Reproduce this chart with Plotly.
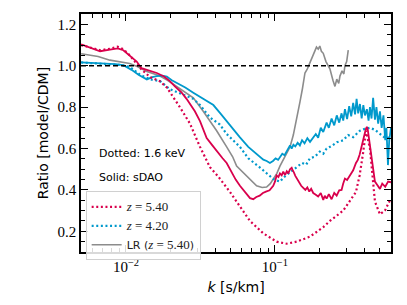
import plotly.graph_objects as go

# ---------------- data ----------------
# sDAO, z = 5.40 (red solid)
k_red_solid = [0.0050, 0.0058, 0.0067, 0.0078, 0.0088, 0.0096, 0.0106, 0.0118, 0.0127, 0.0145,
               0.0161, 0.0180, 0.0197, 0.0213, 0.0235, 0.0255, 0.0275, 0.0290, 0.0314, 0.0330,
               0.0348, 0.0380, 0.0416, 0.0445, 0.0474, 0.0512, 0.0545, 0.0582, 0.0610, 0.0640,
               0.0680, 0.0715, 0.0750, 0.0790, 0.0830, 0.0870, 0.0920, 0.0974, 0.1000, 0.1026,
               0.1055, 0.1080, 0.1110, 0.1137, 0.1170, 0.1200, 0.1230, 0.1262, 0.1295, 0.1320,
               0.1340, 0.1370, 0.1400, 0.1450, 0.1500, 0.1549, 0.1600, 0.1650, 0.1700, 0.1750,
               0.1807, 0.1870, 0.1950, 0.2030, 0.2110, 0.2160, 0.2222, 0.2300, 0.2400, 0.2500,
               0.2595, 0.2700, 0.2800, 0.2870, 0.2949, 0.3050, 0.3200, 0.3350, 0.3499, 0.3600,
               0.3700, 0.3800, 0.3902, 0.4000, 0.4080, 0.4140, 0.4200, 0.4300, 0.4400, 0.4477,
               0.4580, 0.4690, 0.4850, 0.5068, 0.5250, 0.5500, 0.5750, 0.6010]
v_red_solid = [1.104, 1.088, 1.070, 1.078, 1.084, 1.075, 1.050, 1.020, 0.988, 0.975,
               0.965, 0.948, 0.926, 0.900, 0.872, 0.840, 0.805, 0.780, 0.732, 0.690,
               0.650, 0.615, 0.577, 0.553, 0.530, 0.484, 0.450, 0.420, 0.402, 0.385,
               0.360, 0.355, 0.366, 0.372, 0.385, 0.392, 0.398, 0.420, 0.440, 0.470,
               0.462, 0.480, 0.470, 0.488, 0.472, 0.490, 0.480, 0.500, 0.507, 0.492,
               0.485, 0.468, 0.455, 0.440, 0.420, 0.410, 0.400, 0.412, 0.392, 0.405,
               0.385, 0.378, 0.368, 0.385, 0.352, 0.372, 0.358, 0.380, 0.355, 0.385,
               0.372, 0.398, 0.400, 0.430, 0.455, 0.448, 0.475, 0.495, 0.530, 0.545,
               0.570, 0.600, 0.640, 0.670, 0.695, 0.705, 0.690, 0.640, 0.590, 0.560,
               0.490, 0.440, 0.425, 0.405, 0.430, 0.415, 0.440, 0.437]

# 1.6 keV, z = 5.40 (red dotted)
k_red_dot = [0.0050, 0.0058, 0.0067, 0.0078, 0.0088, 0.0096, 0.0106, 0.0124, 0.0145, 0.0169,
             0.0188, 0.0230, 0.0269, 0.0314, 0.0366, 0.0416, 0.0499, 0.0582, 0.0680, 0.0835,
             0.1026, 0.1198, 0.1400, 0.1717, 0.2110, 0.2338, 0.2873, 0.3499, 0.3700, 0.3902,
             0.4082, 0.4342, 0.4690, 0.5068, 0.5471, 0.6010]
v_red_dot = [1.100, 1.086, 1.075, 1.082, 1.092, 1.080, 1.050, 0.990, 0.945, 0.925,
             0.895, 0.800, 0.720, 0.608, 0.510, 0.465, 0.390, 0.320, 0.250, 0.190,
             0.150, 0.140, 0.150, 0.174, 0.220, 0.250, 0.300, 0.390, 0.470, 0.577,
             0.686, 0.600, 0.344, 0.282, 0.300, 0.360]

# sDAO, z = 4.20 (blue solid)
k_blue_solid = [0.0050, 0.0060, 0.0070, 0.0085, 0.0096, 0.0109, 0.0122, 0.0138, 0.0150, 0.0161,
                0.0175, 0.0188, 0.0203, 0.0219, 0.0250, 0.0283, 0.0330, 0.0386, 0.0430, 0.0474,
                0.0520, 0.0582, 0.0662, 0.0710, 0.0750, 0.0790, 0.0835, 0.0880, 0.0925, 0.0970,
                0.1010, 0.1050, 0.1080, 0.1120, 0.1160, 0.1198, 0.1230, 0.1262, 0.1295, 0.1330,
                0.1370, 0.1420, 0.1470, 0.1520, 0.1580, 0.1650, 0.1720, 0.1807, 0.1880, 0.1950,
                0.2030, 0.2110, 0.2222, 0.2300, 0.2400, 0.2500, 0.2600, 0.2700, 0.2800, 0.2873,
                0.2950, 0.3050, 0.3150, 0.3250, 0.3350, 0.3450, 0.3532, 0.3620, 0.3720, 0.3820,
                0.3920, 0.4020, 0.4140, 0.4250, 0.4342, 0.4450, 0.4560, 0.4690, 0.4800, 0.4930,
                0.5068, 0.5200, 0.5350, 0.5500, 0.5600, 0.5736, 0.5850, 0.6010]
v_blue_solid = [1.016, 1.014, 1.012, 1.008, 1.003, 0.980, 0.955, 0.934, 0.945, 0.950,
                0.952, 0.948, 0.930, 0.918, 0.895, 0.870, 0.840, 0.810, 0.770, 0.732,
                0.695, 0.654, 0.608, 0.590, 0.577, 0.560, 0.546, 0.540, 0.530, 0.540,
                0.552, 0.545, 0.560, 0.575, 0.568, 0.585, 0.600, 0.615, 0.600, 0.618,
                0.610, 0.628, 0.615, 0.640, 0.625, 0.650, 0.632, 0.655, 0.670, 0.652,
                0.700, 0.680, 0.725, 0.700, 0.745, 0.712, 0.760, 0.725, 0.770, 0.735,
                0.790, 0.742, 0.805, 0.755, 0.820, 0.765, 0.840, 0.770, 0.815, 0.745,
                0.810, 0.760, 0.790, 0.735, 0.800, 0.745, 0.845, 0.740, 0.800, 0.720,
                0.780, 0.700, 0.760, 0.640, 0.700, 0.520, 0.640, 0.700]

# 1.6 keV, z = 4.20 (blue dotted)
k_blue_dot = [0.0050, 0.0070, 0.0090, 0.0106, 0.0124, 0.0145, 0.0169, 0.0197, 0.0242, 0.0283,
              0.0314, 0.0366, 0.0427, 0.0474, 0.0582, 0.0662, 0.0793, 0.0880, 0.0974, 0.1030,
              0.1080, 0.1150, 0.1230, 0.1328, 0.1420, 0.1520, 0.1620, 0.1717, 0.1850, 0.2000,
              0.2110, 0.2222, 0.2400, 0.2600, 0.2873, 0.3100, 0.3350, 0.3717, 0.4000, 0.4342,
              0.4700, 0.5068, 0.5500, 0.6010]
v_blue_dot = [1.016, 1.010, 1.004, 0.995, 0.957, 0.934, 0.926, 0.887, 0.862, 0.840,
              0.810, 0.750, 0.716, 0.670, 0.608, 0.553, 0.508, 0.478, 0.453, 0.445,
              0.440, 0.462, 0.478, 0.500, 0.512, 0.530, 0.522, 0.553, 0.560, 0.585,
              0.575, 0.600, 0.612, 0.630, 0.640, 0.665, 0.655, 0.686, 0.695, 0.700,
              0.690, 0.670, 0.650, 0.654]

# LR, z = 5.40 (gray solid)
k_gray = [0.0050, 0.0065, 0.0078, 0.0090, 0.0106, 0.0120, 0.0138, 0.0155, 0.0169, 0.0190,
          0.0208, 0.0242, 0.0283, 0.0330, 0.0370, 0.0406, 0.0474, 0.0520, 0.0553, 0.0613,
          0.0680, 0.0753, 0.0820, 0.0879, 0.0930, 0.0974, 0.1030, 0.1080, 0.1160, 0.1262,
          0.1328, 0.1400, 0.1472, 0.1530, 0.1590, 0.1650, 0.1717, 0.1780, 0.1854, 0.1900,
          0.1952, 0.2000, 0.2050, 0.2110, 0.2200, 0.2338, 0.2450, 0.2528, 0.2600, 0.2680,
          0.2731, 0.2820, 0.2900, 0.2949, 0.3030, 0.3105]
v_gray = [1.058, 1.045, 1.027, 1.020, 1.011, 0.995, 0.972, 0.960, 0.950, 0.930,
          0.910, 0.880, 0.845, 0.780, 0.730, 0.686, 0.608, 0.560, 0.515, 0.484,
          0.450, 0.420, 0.412, 0.414, 0.430, 0.453, 0.480, 0.515, 0.560, 0.608,
          0.665, 0.740, 0.825, 0.890, 0.965, 0.985, 1.015, 1.040, 1.065, 1.090,
          1.080, 1.095, 1.070, 1.060, 1.020, 0.985, 0.930, 0.900, 0.935, 0.915,
          0.950, 0.975, 0.960, 1.000, 1.020, 1.075]

REF_LEVEL = 1.0
MATH = "<span style='font-family:Liberation Serif;font-size:13px'><i>z</i> = {}</span>"
legend_labels = [MATH.format("5.40"), MATH.format("4.20"), "LR (" + MATH.format("5.40") + ")"]
x_tick_vals = [0.01, 0.1]
x_tick_text = ["10<sup>\u22122</sup>", "10<sup>\u22121</sup>"]
x_minor_vals = [0.005, 0.006, 0.007, 0.008, 0.009, 0.02, 0.03, 0.04, 0.05, 0.06, 0.07,
                0.08, 0.09, 0.2, 0.3, 0.4, 0.5, 0.6]

RED = "#d9004c"
BLUE = "#0099cc"
GRAY = "#8c8c8c"
SERIF = "Liberation Serif"
SANS = "DejaVu Sans"

fig = go.Figure()

fig.add_trace(go.Scatter(x=k_gray, y=v_gray, mode="lines", name=legend_labels[2],
                         line=dict(color=GRAY, width=1.6), legendrank=3))
fig.add_trace(go.Scatter(x=k_blue_dot, y=v_blue_dot, mode="lines", name=legend_labels[1],
                         line=dict(color=BLUE, width=2.2, dash="2px,2.6px"), legendrank=2))
fig.add_trace(go.Scatter(x=k_blue_solid, y=v_blue_solid, mode="lines", showlegend=False,
                         line=dict(color=BLUE, width=1.8)))
fig.add_trace(go.Scatter(x=k_red_dot, y=v_red_dot, mode="lines", name=legend_labels[0],
                         line=dict(color=RED, width=2.2, dash="2px,2.6px"), legendrank=1))
fig.add_trace(go.Scatter(x=k_red_solid, y=v_red_solid, mode="lines", showlegend=False,
                         line=dict(color=RED, width=1.8)))

fig.add_hline(y=REF_LEVEL, line=dict(color="black", width=1.3, dash="5px,3px"))

fig.add_annotation(text="Dotted: 1.6 keV", xref="paper", yref="paper", x=0.05, y=0.415,
                   xanchor="left", yanchor="middle", showarrow=False,
                   font=dict(family=SANS, size=11, color="black"))
fig.add_annotation(text="Solid: sDAO", xref="paper", yref="paper", x=0.05, y=0.313,
                   xanchor="left", yanchor="middle", showarrow=False,
                   font=dict(family=SANS, size=11, color="black"))

axis_common = dict(showgrid=False, zeroline=False, showline=True, linecolor="black",
                   linewidth=1.6, mirror="allticks", ticks="inside", ticklen=7,
                   tickwidth=1.2, tickcolor="black",
                   tickfont=dict(family=SERIF, size=15, color="black"))

fig.update_xaxes(type="log", range=[-2.302, -0.221], tickvals=x_tick_vals,
                 ticktext=x_tick_text,
                 minor=dict(tickvals=x_minor_vals, ticks="inside", ticklen=4,
                            tickwidth=1, tickcolor="black"),
                 title=dict(text="<i>k</i> [s/km]",
                            font=dict(family=SANS, size=14, color="black"), standoff=8),
                 **axis_common)
fig.update_yaxes(range=[0.1, 1.25], tick0=0.2, dtick=0.2, tickformat=".1f",
                 minor=dict(dtick=0.05, tick0=0.0, ticks="inside", ticklen=4,
                            tickwidth=1, tickcolor="black"),
                 title=dict(text="Ratio [model/CDM]",
                            font=dict(family=SANS, size=14, color="black"), standoff=6),
                 **axis_common)

fig.update_layout(
    width=407, height=305,
    margin=dict(l=81, r=16, t=12, b=47),
    paper_bgcolor="white", plot_bgcolor="white",
    showlegend=True,
    legend=dict(x=0.015, y=0.255, xanchor="left", yanchor="top",
                bgcolor="rgba(255,255,255,0.85)", bordercolor="#d0d0d0", borderwidth=1,
                font=dict(family=SANS, size=11, color="#222222"),
                itemwidth=30, tracegroupgap=0),
)

fig.write_html("out.html", config={"displayModeBar": False},
               post_script="document.body.style.margin='0';")
